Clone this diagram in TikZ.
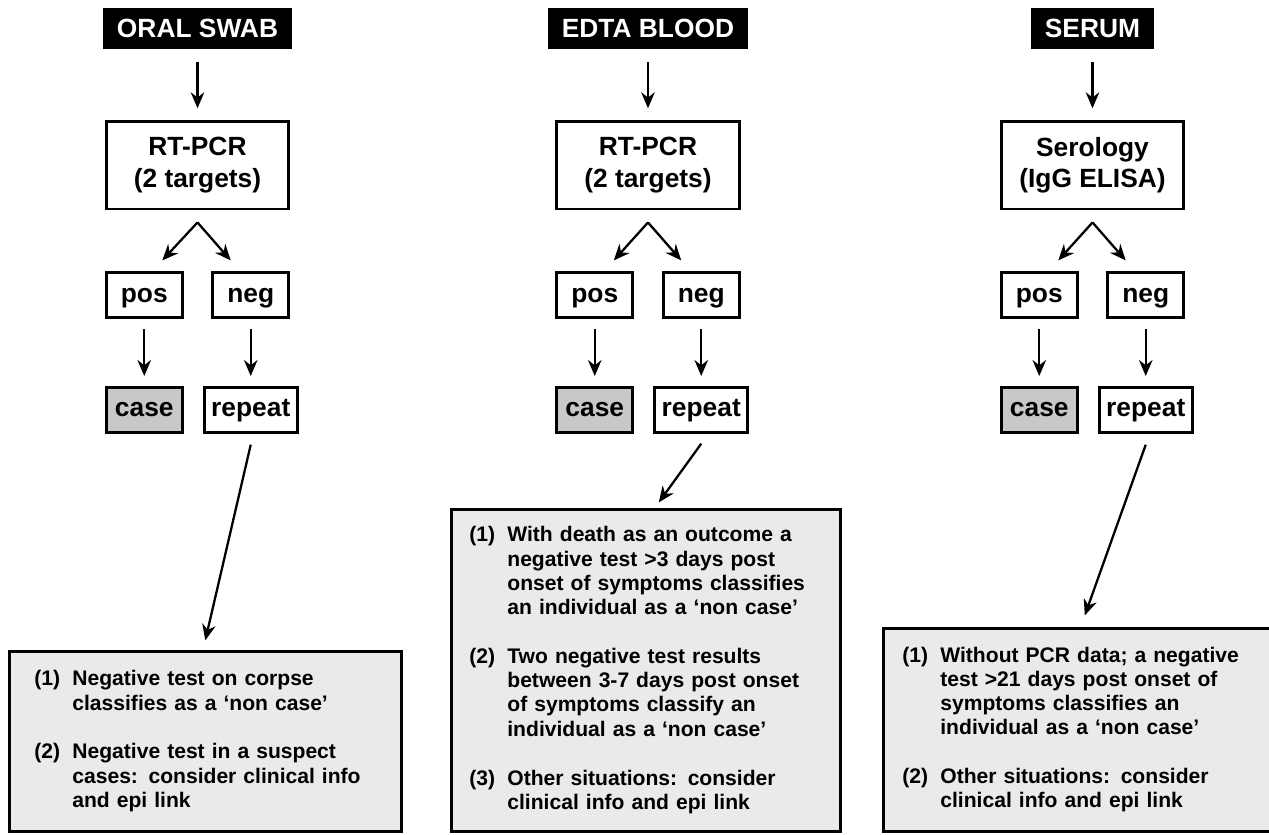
\documentclass[tikz,border=0pt]{standalone}
\usepackage{fontspec}
\setmainfont{Liberation Sans}
\usetikzlibrary{arrows.meta, positioning}
\definecolor{caseGray}{RGB}{200,200,200}
\definecolor{noteGray}{RGB}{234,234,234}

\begin{document}
\begin{tikzpicture}[
    x=0.02cm, y=-0.02cm,
    sample/.style={rectangle, fill=black, text=white, minimum height=0.82cm, inner xsep=8pt, font=\fontsize{15}{17}\selectfont\bfseries},
    test/.style={rectangle, draw, line width=1.5pt, minimum width=3.65cm, minimum height=1.75cm, align=center, font=\fontsize{15}{18}\selectfont\bfseries},
    result/.style={rectangle, draw, line width=1.5pt, minimum width=1.52cm, minimum height=0.9cm, text height=1.5ex, text depth=0pt, font=\fontsize{15}{17}\selectfont\bfseries},
    casebox/.style={result, fill=caseGray},
    repeatbox/.style={result, minimum width=1.86cm},
    note/.style={rectangle, draw, line width=1.5pt, fill=noteGray, anchor=south west, align=left, font=\fontsize{12}{13.8}\selectfont\bfseries},
    arrow/.style={-{Stealth[length=3.2mm, width=2.7mm]}, line width=1.3pt}
]
\useasboundingbox (0,0) rectangle (1269,835);

% oral swab
\node[sample] (swab) at (197.5,28.5) {ORAL SWAB};
\node[test, below=1.42cm of swab] (rt1) {RT-PCR\\(2 targets)};
\node[result, below=1.22cm of rt1.south west, anchor=north west] (pos1) {pos};
\node[result, below=1.22cm of rt1.south east, anchor=north east] (neg1) {neg};
\node[casebox, below=1.34cm of pos1] (case1) {case};
\node[repeatbox, below=1.34cm of neg1] (rep1) {repeat};
\node[note, text width=6.84cm, inner xsep=0.5cm, minimum height=3.6cm] (note1) at (8,833) {%
\begin{tabular}{@{}l@{\hspace{7pt}}l@{}}
(1) & Negative test on corpse\\
    & classifies as a `non case'\\[14pt]
(2) & Negative test in a suspect\\
    & cases: consider clinical info\\
    & and epi link
\end{tabular}};

% edta blood
\node[sample] (blood) at (648,28.5) {EDTA BLOOD};
\node[test, below=1.42cm of blood] (rt2) {RT-PCR\\(2 targets)};
\node[result, below=1.22cm of rt2.south west, anchor=north west] (pos2) {pos};
\node[result, below=1.22cm of rt2.south east, anchor=north east] (neg2) {neg};
\node[casebox, below=1.34cm of pos2] (case2) {case};
\node[repeatbox, below=1.34cm of neg2] (rep2) {repeat};
\node[note, text width=7.06cm, inner xsep=0.36cm, minimum height=6.44cm] (note2) at (450,833) {%
\begin{tabular}{@{}l@{\hspace{7pt}}l@{}}
(1) & With death as an outcome a\\
    & negative test >3 days post\\
    & onset of symptoms classifies\\
    & an individual as a `non case'\\[14pt]
(2) & Two negative test results\\
    & between 3-7 days post onset\\
    & of symptoms classify an\\
    & individual as a `non case'\\[14pt]
(3) & Other situations: consider\\
    & clinical info and epi link
\end{tabular}};

% serum
\node[sample] (serum) at (1092.5,28.5) {SERUM};
\node[test, below=1.42cm of serum] (sero) {Serology\\(IgG ELISA)};
\node[result, below=1.22cm of sero.south west, anchor=north west] (pos3) {pos};
\node[result, below=1.22cm of sero.south east, anchor=north east] (neg3) {neg};
\node[casebox, below=1.34cm of pos3] (case3) {case};
\node[repeatbox, below=1.34cm of neg3] (rep3) {repeat};
\node[note, text width=7.1cm, inner xsep=0.38cm, minimum height=4.06cm] (note3) at (882,833) {%
\begin{tabular}{@{}l@{\hspace{7pt}}l@{}}
(1) & Without PCR data; a negative\\
    & test >21 days post onset of\\
    & symptoms classifies an\\
    & individual as a `non case'\\[14pt]
(2) & Other situations: consider\\
    & clinical info and epi link
\end{tabular}};

% arrows
\draw[arrow, shorten <=0.26cm, shorten >=0.24cm] (swab) -- (rt1);
\draw[arrow] ([yshift=-0.24cm]rt1.south) -- ([xshift=0.36cm, yshift=0.22cm]pos1.north);
\draw[arrow] ([yshift=-0.24cm]rt1.south) -- ([xshift=-0.4cm, yshift=0.22cm]neg1.north);
\draw[arrow, shorten <=0.2cm, shorten >=0.2cm] (pos1) -- (case1);
\draw[arrow, shorten <=0.2cm, shorten >=0.2cm] (neg1) -- (rep1);
\draw[arrow] ([yshift=-0.22cm]rep1.south) -- ([yshift=0.2cm]note1.north);

\draw[arrow, shorten <=0.26cm, shorten >=0.24cm] (blood) -- (rt2);
\draw[arrow] ([yshift=-0.24cm]rt2.south) -- ([xshift=0.38cm, yshift=0.22cm]pos2.north);
\draw[arrow] ([yshift=-0.24cm]rt2.south) -- ([xshift=-0.4cm, yshift=0.22cm]neg2.north);
\draw[arrow, shorten <=0.2cm, shorten >=0.2cm] (pos2) -- (case2);
\draw[arrow, shorten <=0.2cm, shorten >=0.2cm] (neg2) -- (rep2);
\draw[arrow] ([yshift=-0.2cm]rep2.south) -- ([xshift=0.26cm, yshift=0.12cm]note2.north);

\draw[arrow, shorten <=0.26cm, shorten >=0.24cm] (serum) -- (sero);
\draw[arrow] ([yshift=-0.24cm]sero.south) -- ([xshift=0.38cm, yshift=0.22cm]pos3.north);
\draw[arrow] ([yshift=-0.24cm]sero.south) -- ([xshift=-0.4cm, yshift=0.22cm]neg3.north);
\draw[arrow, shorten <=0.2cm, shorten >=0.2cm] (pos3) -- (case3);
\draw[arrow, shorten <=0.2cm, shorten >=0.2cm] (neg3) -- (rep3);
\draw[arrow] ([yshift=-0.22cm]rep3.south) -- ([xshift=0.1cm, yshift=0.24cm]note3.north);
\end{tikzpicture}
\end{document}
